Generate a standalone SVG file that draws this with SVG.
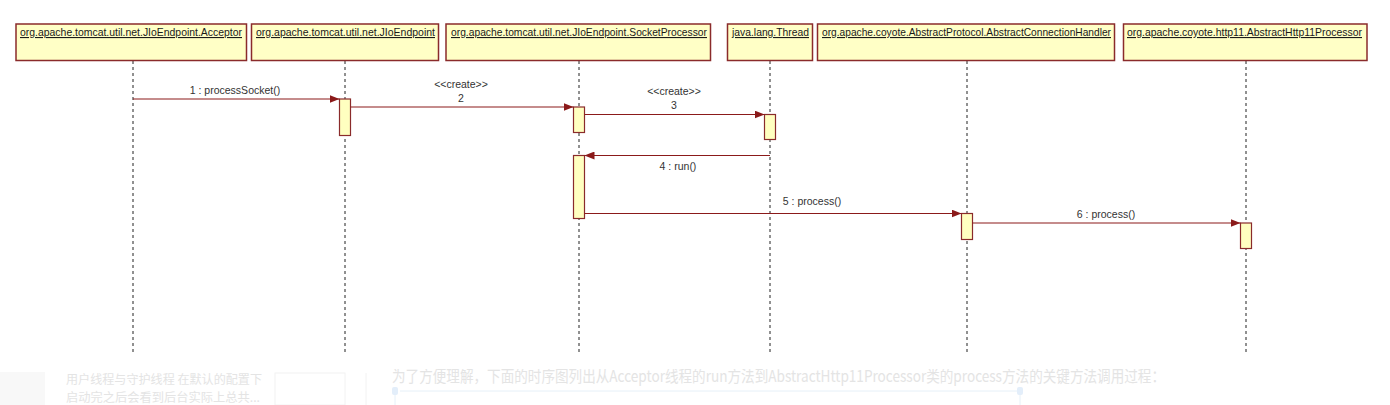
<svg xmlns="http://www.w3.org/2000/svg" width="1390" height="405" viewBox="0 0 1390 405">
<style>
.obj{fill:#FFFFC6;stroke:#8A2B2B;stroke-width:1.5}
.act{fill:#FFFFC0;stroke:#8A2B2B;stroke-width:1.2}
.lbl{font-family:"Liberation Sans",Arial,sans-serif;font-size:11px;fill:#1a1a1a;text-decoration:underline}
.life{stroke:#222;stroke-width:1;stroke-dasharray:3,3;fill:none}
.msg{stroke:#8B1A1A;stroke-width:1.2;fill:none;marker-end:url(#ah)}
.mt{font-family:"Liberation Sans",Arial,sans-serif;font-size:10.5px;fill:#333;text-anchor:middle}
.bg{font-family:"Noto Sans CJK SC","Liberation Sans",sans-serif;fill:#e4e4e4}
</style>
<defs>
<marker id="ah" markerWidth="10" markerHeight="8" refX="10" refY="4" orient="auto" markerUnits="userSpaceOnUse">
<path d="M0,0 L10,4 L0,8 Z" fill="#8B1A1A"/>
</marker>
<clipPath id="cl"><rect x="380" y="369" width="800" height="30"/></clipPath>
</defs>
<rect width="1390" height="405" fill="#fff"/>

<!-- faint background bleed -->
<g id="background">
<rect x="0" y="372" width="45" height="33" fill="#f8f8f8"/>
<text class="bg" x="66" y="384" font-size="12" textLength="196" lengthAdjust="spacingAndGlyphs">用户线程与守护线程 在默认的配置下</text>
<text class="bg" x="66" y="402" font-size="12" textLength="194" lengthAdjust="spacingAndGlyphs">启动完之后会看到后台实际上总共...</text>
<rect x="275" y="373" width="70" height="32" fill="none" stroke="#f2f2f2"/>
<line x1="366" y1="373" x2="366" y2="405" stroke="#f2f2f2"/>
<text class="bg" x="392" y="382" font-size="16" textLength="773" lengthAdjust="spacingAndGlyphs" clip-path="url(#cl)">为了方便理解，下面的时序图列出从Acceptor线程的run方法到AbstractHttp11Processor类的process方法的关键方法调用过程：</text>
<line x1="400" y1="391" x2="1018" y2="391" stroke="#e6f0f8"/>
<rect x="392" y="387" width="6" height="8" rx="2" fill="#e3eefa"/>
<rect x="1017" y="387" width="6" height="8" rx="2" fill="#e3eefa"/>
<line x1="395" y1="395" x2="395" y2="405" stroke="#e6f0f8"/>
<line x1="1020" y1="395" x2="1020" y2="405" stroke="#e6f0f8"/>
</g>

<g id="lifelines">
<line class="life" x1="133" y1="61" x2="133" y2="352"/>
<line class="life" x1="345" y1="61" x2="345" y2="352"/>
<line class="life" x1="579" y1="61" x2="579" y2="352"/>
<line class="life" x1="770" y1="61" x2="770" y2="352"/>
<line class="life" x1="967" y1="61" x2="967" y2="352"/>
<line class="life" x1="1246" y1="61" x2="1246" y2="352"/>
</g>

<g id="n1"><rect class="obj" x="16" y="24" width="230.5" height="36.5"/><text class="lbl" x="20" y="36" textLength="222" lengthAdjust="spacingAndGlyphs">org.apache.tomcat.util.net.JIoEndpoint.Acceptor</text></g>
<g id="n2"><rect class="obj" x="251.5" y="24" width="187" height="36.5"/><text class="lbl" x="256" y="36" textLength="179" lengthAdjust="spacingAndGlyphs">org.apache.tomcat.util.net.JIoEndpoint</text>
<rect class="act" x="339.5" y="99" width="11" height="36.5"/></g>
<g id="n3"><rect class="obj" x="446" y="24" width="264.5" height="36.5"/><text class="lbl" x="451" y="36" textLength="256" lengthAdjust="spacingAndGlyphs">org.apache.tomcat.util.net.JIoEndpoint.SocketProcessor</text>
<rect class="act" x="573.5" y="107" width="11" height="25.5"/>
<rect class="act" x="573.5" y="155.5" width="11" height="63"/></g>
<g id="n4"><rect class="obj" x="727.5" y="24" width="85" height="36.5"/><text class="lbl" x="732" y="36" textLength="77" lengthAdjust="spacingAndGlyphs">java.lang.Thread</text>
<rect class="act" x="764.5" y="114.5" width="11" height="25"/></g>
<g id="n5"><rect class="obj" x="817.5" y="24" width="297" height="36.5"/><text class="lbl" x="822" y="36" textLength="289" lengthAdjust="spacingAndGlyphs">org.apache.coyote.AbstractProtocol.AbstractConnectionHandler</text>
<rect class="act" x="961.5" y="213.5" width="11" height="26"/></g>
<g id="n6"><rect class="obj" x="1123.5" y="24" width="243.5" height="36.5"/><text class="lbl" x="1127" y="36" textLength="235" lengthAdjust="spacingAndGlyphs">org.apache.coyote.http11.AbstractHttp11Processor</text>
<rect class="act" x="1240.5" y="223" width="11" height="25.5"/></g>

<g id="connectors">
<line class="msg" x1="133" y1="99" x2="339.5" y2="99"/>
<text class="mt" x="235" y="94">1 : processSocket()</text>
<line class="msg" x1="350.5" y1="107" x2="573.5" y2="107"/>
<text class="mt" x="461" y="88">&lt;&lt;create&gt;&gt;</text>
<text class="mt" x="461" y="102">2</text>
<line class="msg" x1="584.5" y1="114.5" x2="764.5" y2="114.5"/>
<text class="mt" x="674" y="95">&lt;&lt;create&gt;&gt;</text>
<text class="mt" x="674" y="109">3</text>
<line class="msg" x1="770" y1="155.5" x2="584.5" y2="155.5"/>
<text class="mt" x="678" y="170">4 : run()</text>
<line class="msg" x1="584.5" y1="213.5" x2="961.5" y2="213.5"/>
<text class="mt" x="812" y="205">5 : process()</text>
<line class="msg" x1="972.5" y1="223" x2="1240.5" y2="223"/>
<text class="mt" x="1106" y="218">6 : process()</text>
</g>
</svg>
